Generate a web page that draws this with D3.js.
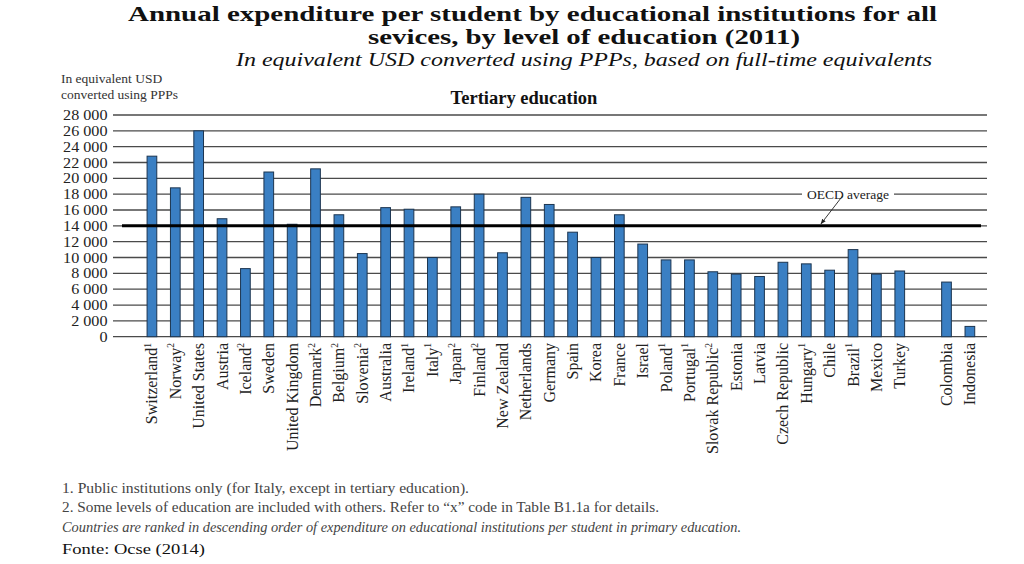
<!DOCTYPE html>
<html><head><meta charset="utf-8">
<script src="https://cdn.jsdelivr.net/npm/d3@7"></script>
<style>body{margin:0;background:#fff}svg{display:block}</style>
</head><body>
<svg id="c" width="1024" height="564"></svg>
<script>
const countries = ["Switzerland","Norway","United States","Austria","Iceland","Sweden","United Kingdom","Denmark","Belgium","Slovenia","Australia","Ireland","Italy","Japan","Finland","New Zealand","Netherlands","Germany","Spain","Korea","France","Israel","Poland","Portugal","Slovak Republic","Estonia","Latvia","Czech Republic","Hungary","Chile","Brazil","Mexico","Turkey","","Colombia","Indonesia"];
const notes = ["1","2","","","2","","","2","2","2","","1","1","2","2","","","","","","","","1","1","2","","","","1","","1","","","","",""];
const values = [22800,18800,26000,14900,8600,20800,14200,21200,15400,10500,16300,16100,10000,16400,18000,10600,17600,16700,13200,10000,15400,11700,9700,9700,8200,7900,7600,9400,9200,8400,11000,7900,8300,null,6900,1300];
const oecdAverage = 14000;
const yTicks = [0,2000,4000,6000,8000,10000,12000,14000,16000,18000,20000,22000,24000,26000,28000];

const svg = d3.select("#c");
const serif = "'Liberation Serif', 'DejaVu Serif', serif";

const x = d3.scaleBand().domain(d3.range(countries.length)).range([140.3, 981.5]).paddingInner(0.585).paddingOuter(0.29);
const y = d3.scaleLinear().domain([0, 28000]).range([336.7, 115]);

// gridlines
svg.append("g").selectAll("line").data(yTicks).join("line")
  .attr("x1", 113).attr("x2", 987)
  .attr("y1", d => y(d)).attr("y2", d => y(d))
  .attr("stroke", "#4a4a4a").attr("stroke-width", 1.3);

// y labels
const fmt = d => d3.format(",")(d).replace(/,/g, " ");
svg.append("g").selectAll("text").data(yTicks).join("text")
  .attr("x", 107.5).attr("y", d => y(d) + 5)
  .attr("text-anchor", "end")
  .attr("font-family", serif).attr("font-size", 13.8).attr("fill", "#222")
  .text(d => fmt(d))
  .each(function() {
    const w = this.getComputedTextLength();
    d3.select(this).attr("textLength", w * 1.17).attr("lengthAdjust", "spacingAndGlyphs");
  });

// OECD label box (interrupts gridline)
svg.append("rect").attr("x", 802).attr("y", y(18000) - 10).attr("width", 92).attr("height", 18).attr("fill", "#fff");
svg.append("text").attr("x", 848).attr("y", y(18000) + 4.5)
  .attr("text-anchor", "middle").attr("font-family", serif).attr("font-size", 13.5).attr("fill", "#222")
  .text("OECD average");

// bars
const barData = values.map((v, i) => ({v, i})).filter(d => d.v !== null);
svg.append("g").selectAll("rect").data(barData).join("rect")
  .attr("x", d => x(d.i)).attr("width", x.bandwidth())
  .attr("y", d => y(d.v)).attr("height", d => y(0) - y(d.v))
  .attr("fill", "#3a7fc3").attr("stroke", "#1c3550").attr("stroke-width", 1);

// OECD line
svg.append("line").attr("x1", 122).attr("x2", 981)
  .attr("y1", y(oecdAverage)).attr("y2", y(oecdAverage))
  .attr("stroke", "#000").attr("stroke-width", 3);

// arrow
svg.append("defs").append("marker").attr("id", "ah").attr("viewBox", "0 0 10 10")
  .attr("refX", 9).attr("refY", 5).attr("markerWidth", 6).attr("markerHeight", 6).attr("orient", "auto")
  .append("path").attr("d", "M0,1 L10,5 L0,9 z").attr("fill", "#222");
svg.append("line").attr("x1", 842.5).attr("y1", 196).attr("x2", 821).attr("y2", y(oecdAverage) - 2)
  .attr("stroke", "#222").attr("stroke-width", 0.9).attr("marker-end", "url(#ah)");

// x labels
const xl = svg.append("g").selectAll("text").data(countries.map((c, i) => ({c, n: notes[i], i})).filter(d => d.c))
  .join("text")
  .attr("transform", d => `translate(${x(d.i) + x.bandwidth() / 2 + 5.5},343) rotate(-90)`)
  .attr("text-anchor", "end")
  .attr("font-family", serif).attr("font-size", 16).attr("fill", "#222");
xl.append("tspan").text(d => d.c);
xl.filter(d => d.n).append("tspan").attr("font-size", 9.5).attr("dy", -6.5).text(d => d.n);

// axis title
svg.append("text").attr("x", 61).attr("y", 83).attr("font-family", serif).attr("font-size", 13.5).attr("fill", "#333").text("In equivalent USD");
svg.append("text").attr("x", 61).attr("y", 99).attr("font-family", serif).attr("font-size", 13.5).attr("fill", "#333").text("converted using PPPs");

// panel title
svg.append("text").attr("x", 524).attr("y", 104).attr("text-anchor", "middle")
  .attr("font-family", serif).attr("font-weight", "bold").attr("font-size", 18.5).attr("fill", "#111")
  .text("Tertiary education");

// main title
svg.append("text").attr("x", 128).attr("y", 21).attr("textLength", 809).attr("lengthAdjust", "spacingAndGlyphs")
  .attr("font-family", serif).attr("font-weight", "bold").attr("font-size", 22).attr("fill", "#111")
  .text("Annual expenditure per student by educational institutions for all");
svg.append("text").attr("x", 368).attr("y", 44).attr("textLength", 432).attr("lengthAdjust", "spacingAndGlyphs")
  .attr("font-family", serif).attr("font-weight", "bold").attr("font-size", 22).attr("fill", "#111")
  .text("sevices, by level of education (2011)");
svg.append("text").attr("x", 236).attr("y", 66).attr("textLength", 696).attr("lengthAdjust", "spacingAndGlyphs")
  .attr("font-family", serif).attr("font-style", "italic").attr("font-size", 18).attr("fill", "#111")
  .text("In equivalent USD converted using PPPs, based on full-time equivalents");

// footnotes
const fn = [
  {t: "1. Public institutions only (for Italy, except in tertiary education).", y: 493, w: 407, it: false},
  {t: "2. Some levels of education are included with others. Refer to \u201Cx\u201D code in Table B1.1a for details.", y: 512, w: 597, it: false},
  {t: "Countries are ranked in descending order of expenditure on educational institutions per student in primary education.", y: 532, w: 679, it: true}
];
svg.append("g").selectAll("text").data(fn).join("text")
  .attr("x", 62).attr("y", d => d.y).attr("textLength", d => d.w).attr("lengthAdjust", "spacingAndGlyphs")
  .attr("font-family", serif).attr("font-size", 14).attr("font-style", d => d.it ? "italic" : "normal")
  .attr("fill", "#444").text(d => d.t);
svg.append("text").attr("x", 62).attr("y", 554).attr("textLength", 143).attr("lengthAdjust", "spacingAndGlyphs")
  .attr("font-family", serif).attr("font-size", 14).attr("fill", "#111").text("Fonte: Ocse (2014)");
</script>
</body></html>
